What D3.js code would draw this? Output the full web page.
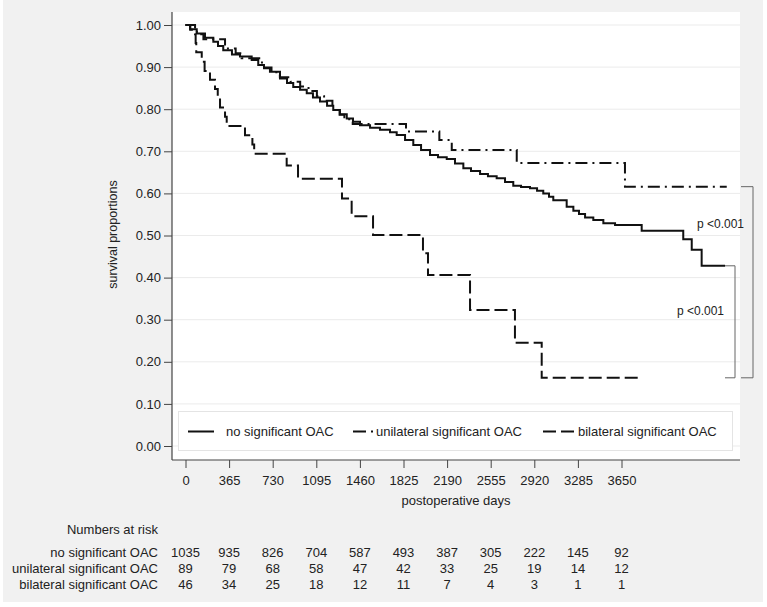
<!DOCTYPE html>
<html>
<head>
<meta charset="utf-8">
<script src="https://cdn.jsdelivr.net/npm/d3@7"></script>
<style>
  html, body { margin: 0; padding: 0; background: #ffffff; }
  svg { display: block; font-family: "Liberation Sans", Arial, sans-serif; }
</style>
</head>
<body>
<svg id="chart" width="767" height="607"></svg>
<script>
// ---------------- data ----------------
const xTicks = [0, 365, 730, 1095, 1460, 1825, 2190, 2555, 2920, 3285, 3650];
const yTicks = [0, 0.1, 0.2, 0.3, 0.4, 0.5, 0.6, 0.7, 0.8, 0.9, 1.0];

const seriesNames = ["no significant OAC", "unilateral significant OAC", "bilateral significant OAC"];

// no significant OAC (solid) : step points (day, survival)
const noDays = [0, 38, 94, 163, 233, 272, 316, 389, 456, 554, 609, 657, 707, 791, 850, 902, 959, 1015, 1067, 1126,
  1185, 1237, 1293, 1350, 1402, 1461, 1545, 1628, 1712, 1768, 1838, 1907, 1972, 2047, 2114, 2187, 2256, 2326, 2390,
  2466, 2532, 2605, 2675, 2744, 2809, 2884, 2943, 2995, 3043, 3079, 3191, 3247, 3294, 3345, 3414, 3498, 3596, 3819,
  4167, 4238, 4321, 4517];
const noSurv = [1.000, 0.990, 0.980, 0.970, 0.960, 0.950, 0.940, 0.930, 0.925, 0.917, 0.905, 0.897, 0.889, 0.873,
  0.862, 0.853, 0.846, 0.838, 0.828, 0.818, 0.808, 0.798, 0.788, 0.778, 0.770, 0.762, 0.756, 0.751, 0.745, 0.739,
  0.727, 0.715, 0.703, 0.691, 0.686, 0.682, 0.671, 0.660, 0.653, 0.646, 0.641, 0.636, 0.627, 0.618, 0.615, 0.612,
  0.606, 0.600, 0.592, 0.584, 0.568, 0.559, 0.551, 0.543, 0.537, 0.529, 0.525, 0.511, 0.491, 0.466, 0.428, 0.428];

// unilateral significant OAC (dash-dot)
const uniDays = [0, 40, 95, 150, 331, 420, 470, 640, 720, 790, 880, 960, 1030, 1100, 1160, 1230, 1290, 1330, 1400,
  1846, 2125, 2229, 2773, 3679, 4531];
const uniSurv = [1.000, 0.989, 0.978, 0.966, 0.944, 0.933, 0.921, 0.899, 0.888, 0.876, 0.865, 0.854, 0.843, 0.831,
  0.820, 0.798, 0.787, 0.776, 0.765, 0.747, 0.727, 0.703, 0.672, 0.616, 0.616];

// bilateral significant OAC (dashed)
const biDays = [0, 80, 85, 90, 136, 160, 205, 247, 270, 289, 331, 345, 498, 560, 575, 847, 942, 1310, 1391, 1570,
  1988, 2030, 2382, 2758, 2982, 3797];
const biSurv = [1.000, 0.978, 0.957, 0.935, 0.913, 0.891, 0.870, 0.848, 0.826, 0.804, 0.782, 0.760, 0.738, 0.716,
  0.694, 0.666, 0.635, 0.588, 0.546, 0.501, 0.458, 0.406, 0.323, 0.245, 0.162, 0.162];

// numbers at risk
const riskTitle = "Numbers at risk";
const riskNo  = [1035, 935, 826, 704, 587, 493, 387, 305, 222, 145, 92];
const riskUni = [89, 79, 68, 58, 47, 42, 33, 25, 19, 14, 12];
const riskBi  = [46, 34, 25, 18, 12, 11, 7, 4, 3, 1, 1];

const pLabels = ["p <0.001", "p <0.001"];
const xLabel = "postoperative days";
const yLabel = "survival proportions";

// ---------------- drawing ----------------
const svg = d3.select("#chart");
const plot = { left: 172, right: 740, top: 12, bottom: 460 };

const x = d3.scaleLinear().domain([0, 3650]).range([185.5, 621.5]);
const y = d3.scaleLinear().domain([0, 1]).range([446, 25]);

const textCol = "#222";
const fontSize = 13;

// backgrounds
svg.append("rect").attr("x", 3).attr("y", 0).attr("width", 760).attr("height", 602).attr("fill", "#f1f1f1");
svg.append("rect").attr("x", plot.left).attr("y", plot.top)
  .attr("width", plot.right - plot.left).attr("height", plot.bottom - plot.top).attr("fill", "#ffffff");

// gridlines
svg.append("g").selectAll("line").data(yTicks).join("line")
  .attr("x1", plot.left).attr("x2", plot.right)
  .attr("y1", d => y(d)).attr("y2", d => y(d))
  .attr("stroke", "#ebebeb").attr("stroke-width", 1);

// axes
const yAxis = d3.axisLeft(y).tickValues(yTicks).tickFormat(d3.format(".2f")).tickSize(8).tickPadding(3);
const gy = svg.append("g").attr("transform", `translate(${plot.left},0)`).call(yAxis);
gy.select(".domain").remove();
gy.selectAll(".tick line").attr("stroke", "#444");
gy.selectAll(".tick text").attr("font-size", fontSize).attr("fill", textCol)
  .attr("font-family", "'Liberation Sans', Arial, sans-serif");

const xAxis = d3.axisBottom(x).tickValues(xTicks).tickFormat(d3.format("d")).tickSize(8).tickPadding(8);
const gx = svg.append("g").attr("transform", `translate(0,${plot.bottom})`).call(xAxis);
gx.select(".domain").remove();
gx.selectAll(".tick line").attr("stroke", "#444");
gx.selectAll(".tick text").attr("font-size", fontSize).attr("fill", textCol)
  .attr("font-family", "'Liberation Sans', Arial, sans-serif");

svg.append("line").attr("x1", plot.left).attr("x2", plot.left).attr("y1", plot.top).attr("y2", plot.bottom)
  .attr("stroke", "#444").attr("stroke-width", 1.2);
svg.append("line").attr("x1", plot.left).attr("x2", plot.right).attr("y1", plot.bottom).attr("y2", plot.bottom)
  .attr("stroke", "#444").attr("stroke-width", 1.2);

// axis titles
svg.append("text").attr("x", (plot.left + plot.right) / 2).attr("y", 504.5)
  .attr("text-anchor", "middle").attr("font-size", fontSize).attr("fill", textCol).text(xLabel);
svg.append("text").attr("transform", "translate(117,234.5) rotate(-90)")
  .attr("text-anchor", "middle").attr("font-size", 12.5).attr("fill", textCol).text(yLabel);

// curves
const line = d3.line().x(d => x(d[0])).y(d => y(d[1])).curve(d3.curveStepAfter);
const series = [
  { days: noDays, surv: noSurv, dash: null },
  { days: uniDays, surv: uniSurv, dash: "12,5,2,5" },
  { days: biDays, surv: biSurv, dash: "13,5" }
];
series.forEach(s => {
  const pts = s.days.map((d, i) => [d, s.surv[i]]);
  svg.append("path").attr("d", line(pts)).attr("fill", "none")
    .attr("stroke", "#111").attr("stroke-width", 2)
    .attr("stroke-dasharray", s.dash);
});

// brackets with p values
const lastNo = noSurv[noSurv.length - 1];
const lastUni = uniSurv[uniSurv.length - 1];
const lastBi = biSurv[biSurv.length - 1];
const bracket = (x0, x1, v0, v1) =>
  `M${x0},${y(v0)}H${x1}V${y(v1)}H${x0}`;
svg.append("path").attr("d", bracket(741, 753, lastUni, lastBi))
  .attr("fill", "none").attr("stroke", "#666").attr("stroke-width", 1);
svg.append("path").attr("d", bracket(725, 735, lastNo, lastBi))
  .attr("fill", "none").attr("stroke", "#666").attr("stroke-width", 1);
svg.append("text").attr("x", 697).attr("y", 227.5).attr("font-size", 12).attr("fill", textCol).text(pLabels[0]);
svg.append("text").attr("x", 677).attr("y", 315).attr("font-size", 12).attr("fill", textCol).text(pLabels[1]);

// legend
const lg = svg.append("g");
lg.append("rect").attr("x", 178.5).attr("y", 411.5).attr("width", 554).attr("height", 39)
  .attr("fill", "#ffffff").attr("stroke", "#e4e4e4");
const legendItems = [
  { sx0: 188, sx1: 214, tx: 226, dash: null },
  { sx0: 353, sx1: 373, tx: 376, dash: "13,5,2,5" },
  { sx0: 543, sx1: 576, tx: 578, dash: "13,5" }
];
const ly = 431.5;
legendItems.forEach((it, i) => {
  lg.append("line").attr("x1", it.sx0).attr("x2", it.sx1).attr("y1", ly).attr("y2", ly)
    .attr("stroke", "#111").attr("stroke-width", 2).attr("stroke-dasharray", it.dash);
  lg.append("text").attr("x", it.tx).attr("y", ly + 4.6).attr("font-size", fontSize)
    .attr("fill", textCol).text(seriesNames[i]);
});

// numbers at risk table
svg.append("text").attr("x", 158).attr("y", 533.5).attr("text-anchor", "end")
  .attr("font-size", fontSize).attr("fill", textCol).text(riskTitle);
const riskRows = [riskNo, riskUni, riskBi];
const rowY = [557, 573, 588.5];
riskRows.forEach((row, r) => {
  svg.append("text").attr("x", 158).attr("y", rowY[r]).attr("text-anchor", "end")
    .attr("font-size", fontSize).attr("fill", textCol).text(seriesNames[r]);
  svg.append("g").selectAll("text").data(row).join("text")
    .attr("x", (d, i) => x(xTicks[i])).attr("y", rowY[r]).attr("text-anchor", "middle")
    .attr("font-size", fontSize).attr("fill", textCol).text(d => d);
});
</script>
</body>
</html>
